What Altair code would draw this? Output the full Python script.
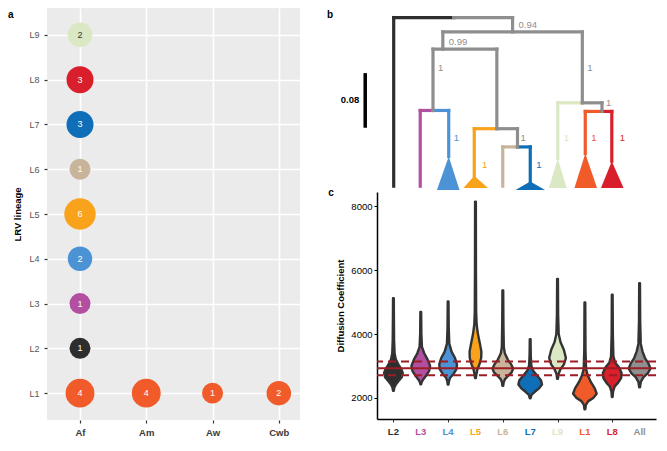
import altair as alt
import pandas as pd

FONT = "Liberation Sans"

# ---------------- shared lineage colours ----------------
LINEAGES = ["L1", "L2", "L3", "L4", "L5", "L6", "L7", "L8", "L9"]
LIN_COLORS = ["#F15A29", "#2E2E2E", "#B24FA1", "#4B93D4", "#F9A31C",
              "#C7B49B", "#0F6EB8", "#D91F2B", "#DAE8C4"]
GRAY = "#8E8E8E"
COL = dict(zip(LINEAGES, LIN_COLORS))
COL["gray"] = GRAY
COL["All"] = "#8F8F8F"

# ---------------- panel a: lineage x climate counts ----------------
CLIMATES = ["Af", "Am", "Aw", "Cwb"]
bub_lineage = ["L1", "L2", "L3", "L4", "L5", "L6", "L7", "L8", "L9", "L1", "L1", "L1"]
bub_climate = ["Af", "Af", "Af", "Af", "Af", "Af", "Af", "Af", "Af", "Am", "Aw", "Cwb"]
bub_count = [4, 1, 1, 2, 6, 1, 3, 3, 2, 4, 1, 2]

# ---------------- panel b: tree (x = tip layout position, d = subst./site) ----------------
seg_x1 = [391, 452, 441, 431, 418, 431, 473, 496, 502, 517, 558, 583, 586, 603,
          391, 512, 441, 583, 431, 496, 418, 447, 473, 517, 502, 530, 558, 603, 586, 613]
seg_x2 = [452, 512, 583, 496, 431, 447, 496, 517, 517, 530, 583, 603, 603, 613,
          391, 512, 441, 583, 431, 496, 418, 447, 473, 517, 502, 530, 558, 603, 586, 613]
seg_d1 = [0, 0, 0.0211, 0.0463, 0.1361, 0.1361, 0.1628, 0.1628, 0.1895, 0.1895, 0.1249, 0.1249, 0.1375, 0.1375,
          0, 0, 0.0211, 0.0211, 0.0463, 0.0463, 0.1361, 0.1361, 0.1628, 0.1628, 0.1895, 0.1895, 0.1249, 0.1249, 0.1375, 0.1375]
seg_d2 = [0, 0, 0.0211, 0.0463, 0.1361, 0.1361, 0.1628, 0.1628, 0.1895, 0.1895, 0.1249, 0.1249, 0.1375, 0.1375,
          0.2470, 0.0211, 0.0463, 0.1249, 0.1361, 0.1628, 0.2470, 0.2035, 0.2316, 0.1895, 0.2470, 0.2400, 0.2063, 0.1375, 0.1993, 0.2105]
seg_col = ["L2", "gray", "gray", "gray", "L3", "L4", "L5", "gray", "L6", "L7", "L9", "gray", "L1", "L8",
           "L2", "gray", "gray", "gray", "gray", "gray", "L3", "L4", "L5", "gray", "L6", "L7", "L9", "gray", "L1", "L8"]

tri_lineage = ["L4", "L5", "L7", "L9", "L1", "L8"]
tri_apex_x = [447, 473, 530, 558, 586, 613]
tri_apex_d = [0.2035, 0.2316, 0.2400, 0.2063, 0.1993, 0.2105]
tri_base_d = [0.2526, 0.2498, 0.2526, 0.2498, 0.2498, 0.2498]
tri_left = [435, 462, 515, 549, 575, 602]
tri_right = [458, 487, 545, 567, 598, 625]

sup_text = ["0.94", "0.99", "1", "1", "1", "1", "1", "1", "1", "1", "1", "1"]
sup_x = [518, 447, 436, 588, 452, 520, 481, 536, 607, 564, 592, 621]
sup_d = [0.0112, 0.0365, 0.0744, 0.0744, 0.1768, 0.1768, 0.2161, 0.2161, 0.1249, 0.1768, 0.1768, 0.1768]
sup_col = ["gray", "gray", "gray", "gray", "L4", "gray", "L5", "L7", "gray", "L9", "L1", "L8"]

scalebar_x = [362]
scalebar_d = [0.0814]
scalebar_len = 0.08

# ---------------- panel c: diffusion coefficient violins ----------------
C_CATS = ["L2", "L3", "L4", "L5", "L6", "L7", "L9", "L1", "L8", "All"]
# profile: values and half-widths (fraction of category spacing)
VIOLINS = {
    "L2": ([2220, 2330, 2420, 2520, 2650, 2780, 2900, 3050, 3200, 3400, 3800, 4500, 5120],
           [0.014, 0.036, 0.090, 0.180, 0.306, 0.342, 0.288, 0.180, 0.090, 0.043, 0.025, 0.018, 0.014]),
    "L3": ([2430, 2500, 2580, 2700, 2850, 3000, 3200, 3400, 3600, 4000, 4690],
           [0.014, 0.036, 0.090, 0.198, 0.306, 0.342, 0.252, 0.126, 0.043, 0.022, 0.014]),
    "L4": ([2420, 2520, 2630, 2750, 2900, 3050, 3250, 3450, 3700, 4200, 5020],
           [0.014, 0.029, 0.072, 0.198, 0.306, 0.324, 0.252, 0.126, 0.043, 0.022, 0.014]),
    "L5": ([2620, 2750, 2900, 3050, 3250, 3450, 3700, 4000, 4300, 4700, 6000, 8150],
           [0.014, 0.036, 0.072, 0.144, 0.209, 0.216, 0.162, 0.090, 0.043, 0.025, 0.018, 0.014]),
    "L6": ([2380, 2480, 2580, 2680, 2800, 2920, 3050, 3200, 3400, 3600, 4300, 5370],
           [0.014, 0.029, 0.072, 0.180, 0.324, 0.378, 0.306, 0.180, 0.072, 0.036, 0.022, 0.014]),
    "L7": ([1990, 2100, 2200, 2300, 2420, 2550, 2700, 2850, 3000, 3300, 3840],
           [0.014, 0.054, 0.180, 0.324, 0.432, 0.396, 0.252, 0.108, 0.043, 0.022, 0.014]),
    "L9": ([2600, 2750, 2900, 3050, 3250, 3500, 3750, 4000, 4600, 5730],
           [0.014, 0.036, 0.108, 0.234, 0.306, 0.234, 0.108, 0.043, 0.022, 0.014]),
    "L1": ([1640, 1780, 1900, 2000, 2130, 2300, 2500, 2700, 2900, 3500, 4990],
           [0.014, 0.036, 0.126, 0.306, 0.432, 0.360, 0.216, 0.108, 0.043, 0.022, 0.014]),
    "L8": ([2030, 2200, 2360, 2480, 2620, 2780, 2950, 3100, 3300, 4000, 5235],
           [0.014, 0.029, 0.090, 0.216, 0.324, 0.342, 0.252, 0.108, 0.043, 0.022, 0.014]),
    "All": ([2330, 2500, 2650, 2780, 2920, 3080, 3250, 3450, 3700, 4400, 5590],
            [0.014, 0.043, 0.144, 0.306, 0.396, 0.324, 0.198, 0.108, 0.043, 0.022, 0.014]),
}
ref_mean = [2930]
ref_band = [2710, 3140]

# ================= build panel a =================
bdf = pd.DataFrame({
    "lineage": bub_lineage,
    "climate": bub_climate,
    "ci": [CLIMATES.index(c) + 1 for c in bub_climate],
    "count": bub_count,
})
bdf["fill"] = [COL[l] for l in bdf["lineage"]]
bdf["tcol"] = ["#333333" if l == "L9" else "white" for l in bdf["lineage"]]

lab_expr_a = "[" + ",".join("'%s'" % c for c in CLIMATES) + "][datum.value-1]"
xa = alt.X("ci:Q", scale=alt.Scale(domain=[0.502, 4.32], nice=False, zero=False),
           axis=alt.Axis(values=[1, 2, 3, 4], labelExpr=lab_expr_a, title=None,
                         grid=True, gridColor="white", gridWidth=1.6, domain=False,
                         tickColor="#333333", tickSize=3, tickWidth=1.2,
                         labelFont=FONT, labelFontSize=9.5, labelFontWeight="bold",
                         labelColor="#3A3A3A", labelPadding=4))
ya = alt.Y("lineage:N", scale=alt.Scale(type="point", domain=LINEAGES[::-1], padding=0.6),
           axis=alt.Axis(title="LRV lineage", titleFont=FONT, titleFontSize=9.5,
                         titleFontWeight="bold", titleColor="black", titlePadding=6,
                         grid=True, gridColor="white", gridWidth=1.6, domain=False,
                         tickColor="#333333", tickSize=3, tickWidth=1.2,
                         labelFont=FONT, labelFontSize=9, labelColor="#555555", labelPadding=5))

circles = alt.Chart(bdf).mark_circle(opacity=1).encode(
    x=xa, y=ya,
    color=alt.Color("fill:N", scale=None),
    size=alt.Size("count:Q", scale=alt.Scale(domain=[1, 2, 3, 4, 6], range=[440, 600, 730, 830, 990]), legend=None),
)
counts = alt.Chart(bdf).mark_text(font=FONT, fontSize=9, baseline="middle").encode(
    x="ci:Q", y="lineage:N", text="count:Q", color=alt.Color("tcol:N", scale=None))
lab_a = alt.Chart(pd.DataFrame({"t": ["a"]})).mark_text(
    font=FONT, fontSize=10, fontWeight="bold", align="left", baseline="middle", color="black"
).encode(text="t:N", x=alt.value(-39), y=alt.value(7))

panel_a = alt.layer(circles, counts, lab_a).properties(
    width=253, height=412, view=alt.ViewBackground(fill="#EBEBEB", stroke=None))

# ================= build panel b =================
sdf = pd.DataFrame({"x1": seg_x1, "x2": seg_x2, "d1": seg_d1, "d2": seg_d2,
                    "c": [COL[k] for k in seg_col]})
xs_b = alt.Scale(domain=[374, 658], nice=False, zero=False)
ys_b = alt.Scale(domain=[-0.014, 0.2526], reverse=True, nice=False, zero=False)

branches = alt.Chart(sdf).mark_rule(strokeWidth=3.2, strokeCap="square").encode(
    x=alt.X("x1:Q", scale=xs_b, axis=None), x2="x2:Q",
    y=alt.Y("d1:Q", scale=ys_b, axis=None), y2="d2:Q",
    color=alt.Color("c:N", scale=None))

tri_rows = []
for lin, ax, ad, bd, lx, rx in zip(tri_lineage, tri_apex_x, tri_apex_d, tri_base_d, tri_left, tri_right):
    for x, top in ((lx, bd), (ax, ad), (rx, bd)):
        tri_rows.append({"lin": lin, "x": x, "top": top, "base": bd, "c": COL[lin]})
tdf = pd.DataFrame(tri_rows)
triangles = alt.Chart(tdf).mark_area(orient="vertical", opacity=1).encode(
    x=alt.X("x:Q", scale=xs_b, axis=None),
    y=alt.Y("top:Q", scale=ys_b, axis=None), y2="base:Q",
    color=alt.Color("c:N", scale=None), detail="lin:N")

ldf = pd.DataFrame({"t": sup_text, "x": sup_x, "d": sup_d, "c": [COL[k] for k in sup_col]})
supports = alt.Chart(ldf).mark_text(font=FONT, fontSize=9.5, align="left", baseline="middle").encode(
    x=alt.X("x:Q", scale=xs_b, axis=None), y=alt.Y("d:Q", scale=ys_b, axis=None),
    text="t:N", color=alt.Color("c:N", scale=None))

bar_df = pd.DataFrame({"x": scalebar_x, "d": scalebar_d,
                       "d2": [scalebar_d[0] + scalebar_len],
                       "dm": [scalebar_d[0] + scalebar_len / 2],
                       "t": ["%.2f" % scalebar_len]})
sbar = alt.Chart(bar_df).mark_rule(strokeWidth=3.5, color="black").encode(
    x=alt.X("x:Q", scale=xs_b, axis=None), y=alt.Y("d:Q", scale=ys_b, axis=None), y2="d2:Q")
sbar_lab = alt.Chart(bar_df).mark_text(font=FONT, fontSize=9.5, fontWeight="bold", align="right",
                                       baseline="middle", dx=-6, color="black").encode(
    x=alt.X("x:Q", scale=xs_b, axis=None), y=alt.Y("dm:Q", scale=ys_b, axis=None), text="t:N")
lab_b = alt.Chart(pd.DataFrame({"t": ["b"]})).mark_text(
    font=FONT, fontSize=10, fontWeight="bold", align="center", baseline="middle", color="black"
).encode(text="t:N", x=alt.value(-47), y=alt.value(7))

panel_b = alt.layer(branches, triangles, supports, sbar, sbar_lab, lab_b).properties(width=279, height=182)

# ================= build panel c =================
vrows = []
for i, cat in enumerate(C_CATS):
    vals, ws = VIOLINS[cat]
    for v, w in zip(vals, ws):
        vrows.append({"lin": cat, "val": v, "lo": i + 1 - w, "hi": i + 1 + w, "c": COL[cat]})
vdf = pd.DataFrame(vrows)
xs_c = alt.Scale(domain=[0.4, 10.6], nice=False, zero=False)
ys_c = alt.Scale(domain=[1340, 8450], nice=False, zero=False)
C_COLORS = [COL[c] for c in C_CATS]

violins = alt.Chart(vdf).mark_area(orient="horizontal", stroke="#333333", strokeWidth=2.4,
                                   strokeJoin="round", opacity=1).encode(
    y=alt.Y("val:Q", scale=ys_c,
            axis=alt.Axis(values=[2000, 4000, 6000, 8000], format="d", title="Diffusion Coefficient",
                          titleFont=FONT, titleFontSize=9.5, titleFontWeight="bold", titleColor="black",
                          titlePadding=5, grid=False, domainColor="black", domainWidth=1.5,
                          tickColor="black", tickSize=3, labelFont=FONT, labelFontSize=9.5,
                          labelColor="black", labelPadding=2)),
    x=alt.X("lo:Q", scale=xs_c,
            axis=alt.Axis(values=list(range(1, len(C_CATS) + 1)), labels=False, title=None, grid=False,
                          domainColor="black", domainWidth=1.5, tickColor="#333333", tickSize=3)),
    x2="hi:Q",
    color=alt.Color("c:N", scale=None),
    detail="lin:N")

mean_line = alt.Chart(pd.DataFrame({"v": ref_mean})).mark_rule(color="#9C1D24", strokeWidth=2).encode(
    y=alt.Y("v:Q", scale=ys_c))
band_lines = alt.Chart(pd.DataFrame({"v": ref_band})).mark_rule(
    color="#9C1D24", strokeWidth=2, strokeDash=[8, 5]).encode(y=alt.Y("v:Q", scale=ys_c))

xl_df = pd.DataFrame({"t": C_CATS, "i": list(range(1, len(C_CATS) + 1)), "c": C_COLORS})
xlabels = alt.Chart(xl_df).mark_text(font=FONT, fontSize=9.5, fontWeight="bold", baseline="middle").encode(
    x=alt.X("i:Q", scale=xs_c), y=alt.value(227 + 13), text="t:N", color=alt.Color("c:N", scale=None))
lab_c = alt.Chart(pd.DataFrame({"t": ["c"]})).mark_text(
    font=FONT, fontSize=10, fontWeight="bold", align="center", baseline="middle", color="black"
).encode(text="t:N", x=alt.value(-46), y=alt.value(1))

panel_c = alt.layer(violins, mean_line, band_lines, xlabels, lab_c).properties(width=279, height=227)

right = alt.vconcat(panel_b, panel_c, spacing=2, bounds="flush")
chart = alt.hconcat(panel_a, right, spacing=77, bounds="flush").properties(
    padding=0, background="white"
).configure_view(stroke=None)

chart.save("out.html", embed_options={"renderer": "svg", "actions": False})
